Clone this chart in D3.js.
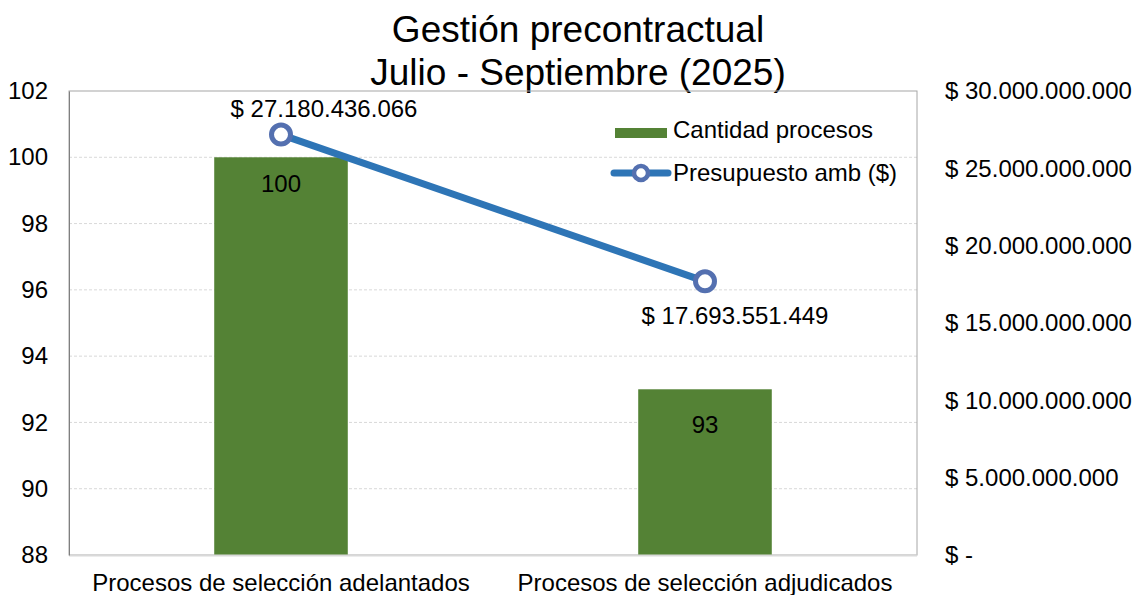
<!DOCTYPE html>
<html>
<head>
<meta charset="utf-8">
<script src="https://cdn.jsdelivr.net/npm/d3@7"></script>
<style>
  html, body { margin: 0; padding: 0; background: #fff; }
  svg { display: block; font-family: "Liberation Sans", Arial, sans-serif; }
</style>
</head>
<body>
<svg id="chart" width="1135" height="595"></svg>
<script>
// Categories and series
const categories = ["Procesos de selección adelantados", "Procesos de selección adjudicados"];
const cantidadProcesos = [100, 93];
const presupuesto = [27180436066, 17693551449];
const leftTicks = [88, 90, 92, 94, 96, 98, 100, 102];
const rightTicks = [0, 5e9, 10e9, 15e9, 20e9, 25e9, 30e9];
const titleLines = ["Gestión precontractual", "Julio - Septiembre (2025)"];
const seriesNames = ["Cantidad procesos", "Presupuesto amb ($)"];

const svg = d3.select("#chart");
const plot = { left: 69, right: 917, top: 91, bottom: 555 };
const FS = 24;

const x = d3.scaleBand().domain(categories).range([plot.left, plot.right]).paddingInner(0).paddingOuter(0);
const yLeft = d3.scaleLinear().domain([88, 102]).range([plot.bottom, plot.top]);
const yRight = d3.scaleLinear().domain([0, 30e9]).range([plot.bottom, plot.top]);

const barW = x.bandwidth() * 0.315;
const cx = d => x(d) + x.bandwidth() / 2;

// Spanish-style thousands separator
const fmtMoney = v => v === 0 ? "$ -" : "$ " + d3.format(",")(v).replace(/,/g, ".");

// Title
svg.append("g").selectAll("text").data(titleLines).join("text")
  .attr("x", 578).attr("y", (d, i) => 42 + i * 43)
  .attr("text-anchor", "middle").attr("font-size", 37).attr("fill", "#000")
  .text(d => d);

// Gridlines
svg.append("g").selectAll("line").data(leftTicks.slice(1, -1)).join("line")
  .attr("x1", plot.left).attr("x2", plot.right)
  .attr("y1", d => yLeft(d)).attr("y2", d => yLeft(d))
  .attr("stroke", "#d9d9d9").attr("stroke-width", 1).attr("stroke-dasharray", "3,2");

// Plot border
svg.append("rect")
  .attr("x", plot.left).attr("y", plot.top)
  .attr("width", plot.right - plot.left).attr("height", plot.bottom - plot.top)
  .attr("fill", "none").attr("stroke", "#a6a6a6").attr("stroke-width", 1);

// Bars
svg.append("g").selectAll("rect").data(categories).join("rect")
  .attr("x", d => cx(d) - barW / 2)
  .attr("y", (d, i) => yLeft(cantidadProcesos[i]))
  .attr("width", barW)
  .attr("height", (d, i) => yLeft(88) - yLeft(cantidadProcesos[i]))
  .attr("fill", "#548235");

// Bottom axis line
svg.append("line")
  .attr("x1", plot.left).attr("x2", plot.right)
  .attr("y1", plot.bottom + 0.5).attr("y2", plot.bottom + 0.5)
  .attr("stroke", "#d9d9d9").attr("stroke-width", 2);

// Bar value labels
const barLabelDy = [35, 44];
svg.append("g").selectAll("text").data(categories).join("text")
  .attr("x", d => cx(d))
  .attr("y", (d, i) => yLeft(cantidadProcesos[i]) + barLabelDy[i])
  .attr("text-anchor", "middle").attr("font-size", FS).attr("fill", "#000")
  .text((d, i) => cantidadProcesos[i]);

// Left axis
const leftAxis = d3.axisLeft(yLeft).tickValues(leftTicks).tickSize(0).tickPadding(21);
const gl = svg.append("g").attr("transform", `translate(${plot.left},0)`).call(leftAxis);
gl.select(".domain").attr("stroke", "#7f7f7f");
gl.selectAll("text").attr("font-size", FS).attr("fill", "#000")
  .attr("font-family", "Liberation Sans, Arial, sans-serif");

// Right axis
const rightAxis = d3.axisRight(yRight).tickValues(rightTicks).tickSize(0).tickPadding(28).tickFormat(fmtMoney);
const gr = svg.append("g").attr("transform", `translate(${plot.right},0)`).call(rightAxis);
gr.select(".domain").remove();
gr.selectAll("text").attr("font-size", FS).attr("fill", "#000")
  .attr("font-family", "Liberation Sans, Arial, sans-serif");

// Category labels
svg.append("g").selectAll("text").data(categories).join("text")
  .attr("x", d => cx(d)).attr("y", 591)
  .attr("text-anchor", "middle").attr("font-size", FS).attr("fill", "#000")
  .text(d => d);

// Budget line
const line = d3.line().x((d, i) => cx(categories[i])).y(d => yRight(d));
svg.append("path").datum(presupuesto)
  .attr("d", line).attr("fill", "none")
  .attr("stroke", "#2e75b6").attr("stroke-width", 7).attr("stroke-linecap", "round");

svg.append("g").selectAll("circle").data(presupuesto).join("circle")
  .attr("cx", (d, i) => cx(categories[i])).attr("cy", d => yRight(d))
  .attr("r", 9.5).attr("fill", "#fff").attr("stroke", "#5470b0").attr("stroke-width", 5);

// Budget labels
const labelOffsets = [{ dx: 43, dy: -18 }, { dx: 30, dy: 43 }];
svg.append("g").selectAll("text").data(presupuesto).join("text")
  .attr("x", (d, i) => cx(categories[i]) + labelOffsets[i].dx)
  .attr("y", (d, i) => yRight(d) + labelOffsets[i].dy)
  .attr("text-anchor", "middle").attr("font-size", FS).attr("fill", "#000")
  .text(d => fmtMoney(d));

// Legend
const legend = svg.append("g");
legend.append("rect").attr("x", 615).attr("y", 128).attr("width", 52).attr("height", 10).attr("fill", "#548235");
legend.append("text").attr("x", 673).attr("y", 138).attr("font-size", FS).attr("fill", "#000").text(seriesNames[0]);
legend.append("line").attr("x1", 614).attr("x2", 668).attr("y1", 173).attr("y2", 173)
  .attr("stroke", "#2e75b6").attr("stroke-width", 7).attr("stroke-linecap", "round");
legend.append("circle").attr("cx", 641).attr("cy", 173).attr("r", 7)
  .attr("fill", "#fff").attr("stroke", "#5470b0").attr("stroke-width", 4.5);
legend.append("text").attr("x", 673).attr("y", 181).attr("font-size", FS).attr("fill", "#000").text(seriesNames[1]);
</script>
</body>
</html>
